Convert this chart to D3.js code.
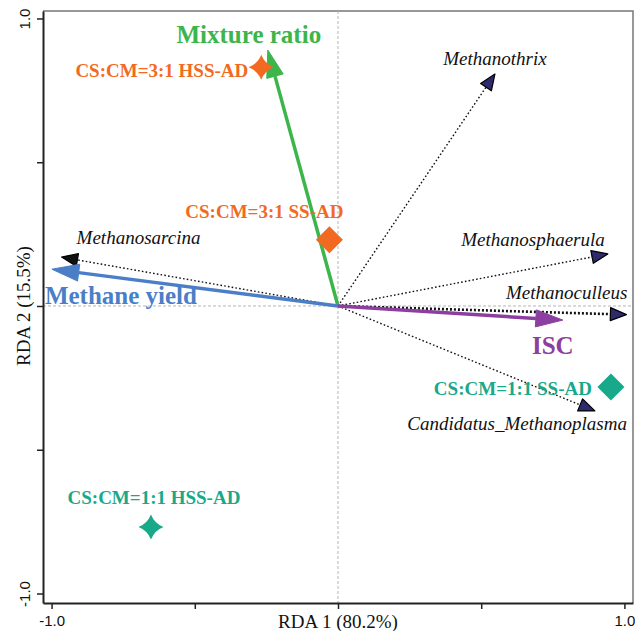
<!DOCTYPE html>
<html><head><meta charset="utf-8">
<script src="https://cdn.jsdelivr.net/npm/d3@7"></script>
<style>body{margin:0;background:#fff}svg{display:block}</style>
</head><body><svg id="c" width="635" height="631"></svg>
<script>
// ---- data ----
const xTicks = [-1, -0.5, 0, 0.5, 1];
const yTicks = [-1, -0.5, 0, 0.5, 1];
const tickLabels = {"-1": "-1.0", "1": "1.0"};
const xTitle = "RDA 1 (80.2%)";
const yTitle = "RDA 2 (15.5%)";

const speciesNames = ["Methanothrix", "Methanosarcina", "Methanosphaerula", "Methanoculleus", "Candidatus_Methanoplasma"];
const speciesX = [0.548, -0.965, 0.942, 1.007, 0.897];
const speciesY = [0.807, 0.170, 0.181, -0.030, -0.365];

const envNames = ["Mixture ratio", "Methane yield", "ISC"];
const envX = [-0.245, -0.999, 0.785];
const envY = [0.890, 0.128, -0.049];

const sampleNames = ["CS:CM=3:1 HSS-AD", "CS:CM=3:1 SS-AD", "CS:CM=1:1 SS-AD", "CS:CM=1:1 HSS-AD"];
const sampleX = [-0.268, -0.030, 0.953, -0.653];
const sampleY = [0.830, 0.230, -0.282, -0.769];
const sampleShapes = ["star", "diamond", "diamond", "star"];

// ---- styles ----
const envColors = ["#3cb54a", "#4a7fc8", "#8c3fa0"];
const sampleColors = ["#f26a21", "#f26a21", "#17a98a", "#17a98a"];
const serif = "'Liberation Serif','Times New Roman',serif";
const sans = "'Liberation Sans',Arial,sans-serif";

const svg = d3.select("#c");
const x = d3.scaleLinear().domain([-1.03, 1.03]).range([43, 633]);
const y = d3.scaleLinear().domain([-1.033, 1.026]).range([603, 11]);

// frame (top/right)
svg.append("path")
  .attr("d", `M${x(-1.03)},${y(1.026)}H${x(1.03)}V${y(-1.033)}`)
  .attr("fill", "none").attr("stroke", "#777").attr("stroke-width", 1.5);

// zero reference lines
svg.append("line").attr("x1", x(0)).attr("x2", x(0)).attr("y1", y(1.026)).attr("y2", y(-1.033))
  .attr("stroke", "#b5b5b5").attr("stroke-width", 1).attr("stroke-dasharray", "3,2");
svg.append("line").attr("x1", x(-1.03)).attr("x2", x(1.03)).attr("y1", y(0)).attr("y2", y(0))
  .attr("stroke", "#b5b5b5").attr("stroke-width", 1).attr("stroke-dasharray", "3,2");

// axes
const xAxis = d3.axisBottom(x).tickValues(xTicks).tickSize(6).tickSizeOuter(0).tickPadding(6)
  .tickFormat(d => tickLabels[String(d)] || "");
const gx = svg.append("g").attr("transform", `translate(0,${y(-1.033)})`).call(xAxis);
gx.select(".domain").attr("stroke", "#222").attr("stroke-width", 2);
gx.selectAll(".tick line").attr("stroke", "#222").attr("stroke-width", 1.5);
gx.selectAll(".tick text").attr("font-family", sans).attr("font-size", 15).attr("fill", "#111");

const yAxis = d3.axisLeft(y).tickValues(yTicks).tickSize(6).tickSizeOuter(0).tickFormat(() => "");
const gy = svg.append("g").attr("transform", `translate(${x(-1.03)},0)`).call(yAxis);
gy.select(".domain").attr("stroke", "#222").attr("stroke-width", 2);
gy.selectAll(".tick line").attr("stroke", "#222").attr("stroke-width", 1.5);
gy.selectAll(".tick").append("text")
  .attr("transform", "translate(-13,0) rotate(-90)")
  .attr("text-anchor", "middle").attr("fill", "#111")
  .attr("font-family", sans).attr("font-size", 15)
  .text(d => tickLabels[String(d)] || "");

// axis titles
svg.append("text").attr("x", x(0)).attr("y", 628).attr("text-anchor", "middle")
  .attr("font-family", serif).attr("font-size", 19).attr("fill", "#111").text(xTitle);
svg.append("text").attr("transform", `translate(30,${y(0)}) rotate(-90)`).attr("text-anchor", "middle")
  .attr("font-family", serif).attr("font-size", 19).attr("fill", "#111").text(yTitle);

function head(x1, y1, x2, y2, L, W) {
  const dx = x2 - x1, dy = y2 - y1, len = Math.hypot(dx, dy);
  const ux = dx / len, uy = dy / len;
  const bx = x2 - ux * L, by = y2 - uy * L;
  const nx = -uy, ny = ux;
  return {bx, by, d: `M${x2},${y2}L${bx + nx * W},${by + ny * W}L${bx - nx * W},${by - ny * W}Z`};
}

const ox = x(0), oy = y(0);

// species arrows (dotted)
speciesNames.forEach((n, i) => {
  const tx = x(speciesX[i]), ty = y(speciesY[i]);
  const h = head(ox, oy, tx, ty, 16, 6.5);
  svg.append("line").attr("x1", ox).attr("y1", oy).attr("x2", h.bx).attr("y2", h.by)
    .attr("stroke", "#111").attr("stroke-width", i === 3 ? 2.6 : 1.4)
    .attr("stroke-dasharray", i === 3 ? "2,2" : "1.6,2.2");
  svg.append("path").attr("d", h.d)
    .attr("fill", i === 1 ? "#111" : "#2e2a6e").attr("stroke", "#000").attr("stroke-width", 1.2)
    .attr("stroke-linejoin", "round");
});

// species labels
const spLab = [
  {a: "middle", dx: 0, dy: -9},
  {a: "start", dx: 15, dy: -13},
  {a: "end", dx: -3, dy: -8},
  {a: "end", dx: 1, dy: -16},
  {a: "end", dx: 32, dy: 19}
];
speciesNames.forEach((n, i) => {
  svg.append("text").attr("x", x(speciesX[i]) + spLab[i].dx).attr("y", y(speciesY[i]) + spLab[i].dy)
    .attr("text-anchor", spLab[i].a).attr("font-family", serif).attr("font-style", "italic")
    .attr("font-size", 19).attr("fill", "#111").text(n);
});

// env arrows (thick)
envNames.forEach((n, i) => {
  const tx = x(envX[i]), ty = y(envY[i]);
  const h = head(ox, oy, tx, ty, 27, 8.5);
  svg.append("line").attr("x1", ox).attr("y1", oy).attr("x2", h.bx).attr("y2", h.by)
    .attr("stroke", envColors[i]).attr("stroke-width", 3.5);
  svg.append("path").attr("d", h.d).attr("fill", envColors[i]).attr("stroke", envColors[i])
    .attr("stroke-width", 1).attr("stroke-linejoin", "round");
});

// sample points (drawn over arrows)
const starPath = (R, r) => `M0,${-R}Q${r},${-r} ${R},0Q${r},${r} 0,${R}Q${-r},${r} ${-R},0Q${-r},${-r} 0,${-R}Z`;
sampleNames.forEach((n, i) => {
  const d = sampleShapes[i] === "star" ? starPath(12.5, 3.5) : "M0,-13.5L13.5,0L0,13.5L-13.5,0Z";
  svg.append("path").attr("d", d).attr("transform", `translate(${x(sampleX[i])},${y(sampleY[i])})`)
    .attr("fill", sampleColors[i]);
});

// env labels
const envLab = [
  {a: "middle", dx: -19, dy: -7},
  {a: "start", dx: -7, dy: 35},
  {a: "middle", dx: -10, dy: 34}
];
envNames.forEach((n, i) => {
  svg.append("text").attr("x", x(envX[i]) + envLab[i].dx).attr("y", y(envY[i]) + envLab[i].dy)
    .attr("text-anchor", envLab[i].a).attr("font-family", serif).attr("font-weight", "bold")
    .attr("font-size", 25).attr("fill", envColors[i]).text(n);
});

// sample labels
const smLab = [
  {a: "end", dx: -13, dy: 10},
  {a: "end", dx: 14, dy: -22},
  {a: "end", dx: -19, dy: 8},
  {a: "middle", dx: 3, dy: -23}
];
sampleNames.forEach((n, i) => {
  svg.append("text").attr("x", x(sampleX[i]) + smLab[i].dx).attr("y", y(sampleY[i]) + smLab[i].dy)
    .attr("text-anchor", smLab[i].a).attr("font-family", serif).attr("font-weight", "bold")
    .attr("font-size", 19).attr("fill", sampleColors[i]).text(n);
});
</script></body></html>
